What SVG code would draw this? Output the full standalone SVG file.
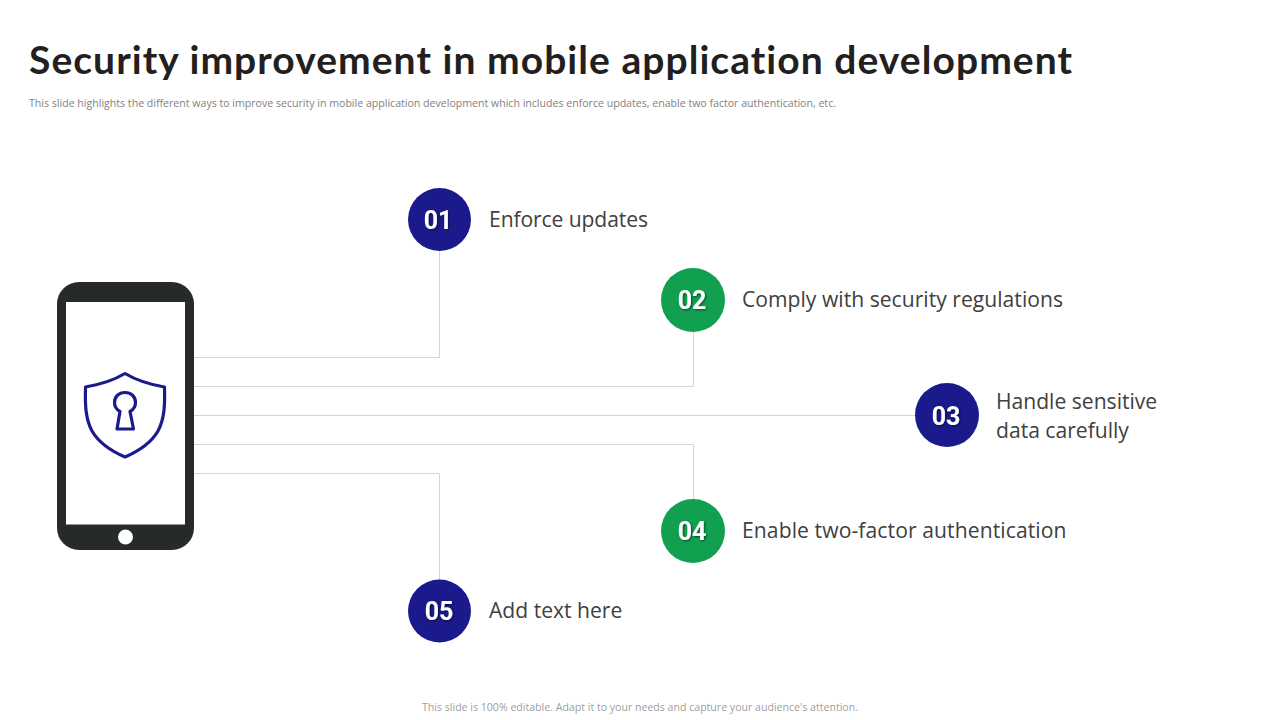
<svg xmlns="http://www.w3.org/2000/svg" width="1280" height="720" viewBox="0 0 1280 720">
<style>
.title{font:bold 39px Lato,"Liberation Sans",sans-serif;fill:#231f20;font-variant-ligatures:none}
.small{font:10.5px "Open Sans","Liberation Sans",sans-serif;fill:#7f7f7f}
.label{font:21.100px "Open Sans","Liberation Sans",sans-serif;fill:#404040}
.num{font:bold 25px Roboto,"Liberation Sans",sans-serif;fill:#fff;text-anchor:middle;filter:url(#sh)}
.conn{fill:none;stroke:#d4d4d4;stroke-width:1}
.blue{fill:#1a1a8c}.green{fill:#11a050}
.ic{fill:none;stroke:#1a1a8c;stroke-width:3.200;stroke-linejoin:round}
</style>
<defs><filter id="sh" x="-20%" y="-20%" width="150%" height="150%"><feDropShadow dx="1" dy="1" stdDeviation="0.8" flood-color="#000" flood-opacity="0.55"/></filter></defs>
<rect width="1280" height="720" fill="#fff"/>
<text class="title" x="29" y="74" textLength="1043" lengthAdjust="spacing">Security improvement in mobile application development</text>
<text class="small" x="29" y="107" textLength="807" lengthAdjust="spacingAndGlyphs">This slide highlights the different ways to improve security in mobile application development which includes enforce updates, enable two factor authentication, etc.</text>
<g id="connectors">
<path class="conn" d="M194 357.500H439.500V250"/>
<path class="conn" d="M194 386.500H693.500V331"/>
<path class="conn" d="M194 415.500H916"/>
<path class="conn" d="M194 444.500H693.500V500"/>
<path class="conn" d="M194 473.500H439.500V580"/>
</g>
<g id="phone">
<rect x="57" y="282" width="137" height="268" rx="22" fill="#272a2a"/>
<rect x="66" y="302" width="119" height="222.500" fill="#fff"/>
<circle cx="125.500" cy="537" r="7.500" fill="#fff"/>
<path class="ic" d="M125 373.500C115 379.500 100 384.500 85.500 387C85 405 85.500 419 92 431C99 443 111 451 125 457C139 451 151 443 158 431C164.500 419 165 405 164.500 387C150 384.500 135 379.500 125 373.500Z"/>
<path class="ic" d="M120 411.500C116.500 409.500 114.500 406 114.500 402.500C114.500 396.500 119 392.500 125 392.500C131 392.500 135.500 396.500 135.500 402.500C135.500 406 133.500 409.500 130 411.500L133.500 429H117Z"/>
</g>
<g id="node1"><circle class="blue" cx="439.500" cy="219.500" r="31.500"/><text class="num" x="438" y="229">01</text><text class="label" x="489" y="227" textLength="159">Enforce updates</text></g>
<g id="node2"><circle class="green" cx="693" cy="300" r="32"/><text class="num" x="692" y="309">02</text><text class="label" x="742" y="307" textLength="321">Comply with security regulations</text></g>
<g id="node3"><circle class="blue" cx="947" cy="415" r="32"/><text class="num" x="946" y="425">03</text><text class="label" x="996" y="409">Handle sensitive</text><text class="label" x="996" y="438">data carefully</text></g>
<g id="node4"><circle class="green" cx="693" cy="531" r="32"/><text class="num" x="692" y="540">04</text><text class="label" x="742" y="538" textLength="324.500">Enable two-factor authentication</text></g>
<g id="node5"><circle class="blue" cx="439.500" cy="611" r="31.500"/><text class="num" x="439" y="620">05</text><text class="label" x="489" y="618">Add text here</text></g>
<text class="small" x="422" y="711" textLength="436" lengthAdjust="spacingAndGlyphs" fill-opacity="0.8">This slide is 100% editable. Adapt it to your needs and capture your audience's attention.</text>
</svg>
